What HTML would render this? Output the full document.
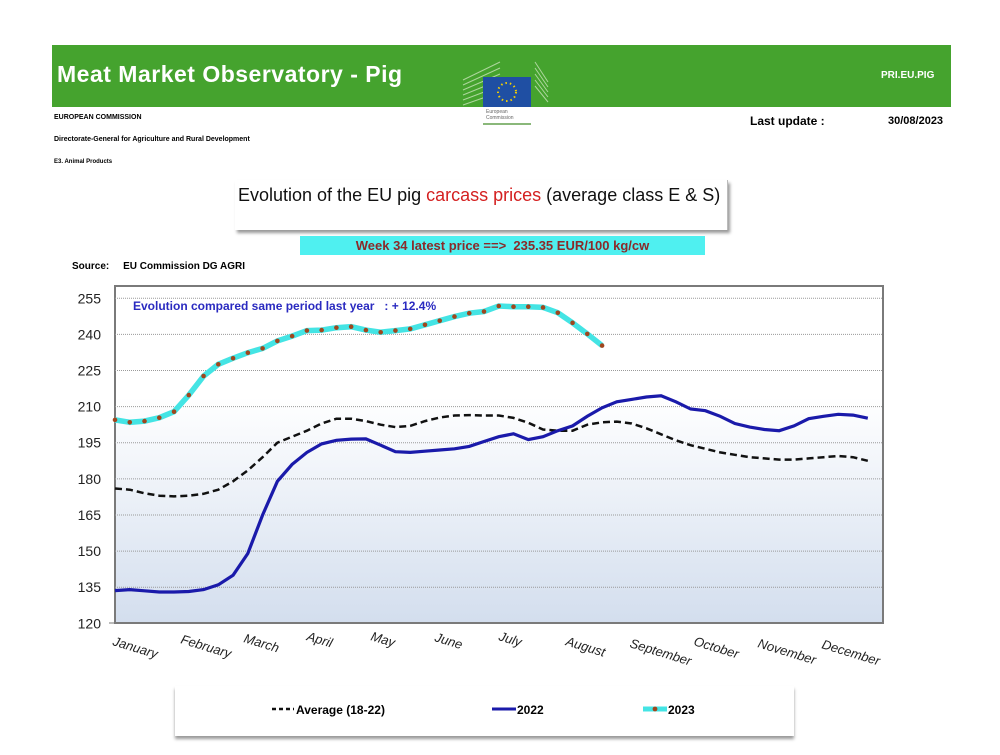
<!DOCTYPE html>
<html><head><meta charset="utf-8"><style>
body{margin:0;width:1000px;height:755px;background:#fff;position:relative;overflow:hidden;font-family:"Liberation Sans",sans-serif}
.a{position:absolute;white-space:nowrap}
</style></head><body>
<div class="a" style="left:52px;top:45px;width:899px;height:62px;background:#45a32e"></div>
<div class="a" style="left:57px;top:61px;font-size:23px;font-weight:bold;color:#fff;letter-spacing:0.5px">Meat Market Observatory - Pig</div>
<div class="a" style="left:881px;top:70px;font-size:10px;font-weight:bold;color:#fff">PRI.EU.PIG</div>
<svg class="a" style="left:460px;top:52px" width="90" height="80">
<g stroke="#b9dca9" stroke-width="1" opacity=".9">
<path d="M3 28 L40 10 M3 33 L40 16 M3 38 L40 22 M3 43 L40 28 M3 48 L40 34 M3 53 L40 40"/>
<path d="M75 10 L88 30 M75 16 L88 35 M75 22 L88 40 M75 28 L88 45 M75 34 L88 50"/>
</g>
<rect x="23" y="25" width="48" height="30" fill="#1f4fa3"/>
<circle cx="47" cy="40" r="9" fill="none" stroke="#f5d000" stroke-width="2" stroke-dasharray="1.5 3"/>
<rect x="23" y="55" width="48" height="14" fill="#fff"/>
<text x="26" y="61" font-size="5" fill="#666">European</text>
<text x="26" y="67" font-size="5" fill="#666">Commission</text>
<rect x="23" y="71" width="48" height="2" fill="#8ab87a"/>
</svg>
<div class="a" style="left:54px;top:114px;font-size:7px;font-weight:bold">EUROPEAN COMMISSION</div>
<div class="a" style="left:54px;top:136px;font-size:7px;font-weight:bold">Directorate-General for Agriculture and Rural Development</div>
<div class="a" style="left:54px;top:159px;font-size:6px;font-weight:bold">E3. Animal Products</div>
<div class="a" style="left:750px;top:114px;font-size:12px;font-weight:bold">Last update :</div>
<div class="a" style="left:888px;top:115px;font-size:11px;font-weight:bold">30/08/2023</div>
<div class="a" style="left:235px;top:180px;width:492px;height:50px;background:#fff;box-shadow:2px 3px 3px #999;border-right:1px solid #bbb"></div>
<div class="a" style="left:238px;top:185px;font-size:18px;color:#111">Evolution of the EU pig <span style="color:#d42020">carcass prices</span> (average class E &amp; S)</div>
<div class="a" style="left:300px;top:236px;width:405px;height:19px;background:#4ff0f0"></div>
<div class="a" style="left:300px;top:238px;width:405px;text-align:center;font-size:13px;font-weight:bold;color:#8b2a2a">Week 34 latest price ==&gt;&nbsp; 235.35 EUR/100 kg/cw</div>
<div class="a" style="left:72px;top:261px;font-size:10px;font-weight:bold">Source:&nbsp;&nbsp;&nbsp;&nbsp; EU Commission DG AGRI</div>
<div class="a" style="left:175px;top:686px;width:619px;height:50px;background:#fff;box-shadow:0 3px 3px #999"></div>
<svg class="a" style="left:0;top:0" width="1000" height="755" id="s"></svg>
<script>
var avg=[176,175.5,174,173,172.7,173,173.8,175.5,179,183.5,189,195,197.5,200,203,205,205,204,202.5,201.5,202,204,205.5,206.3,206.5,206.3,206.3,205.3,203.3,200.5,200,200,202.5,203.5,203.8,203,201,198.5,196,194,192.5,191,190,189,188.5,188,188,188.5,189,189.5,189,187.5];
var y22=[133.6,134,133.5,133,133,133.2,134,136,140,149,165,179,186,191,194.5,196,196.5,196.6,194,191.3,191,191.5,192,192.5,193.5,195.5,197.5,198.7,196.3,197.5,200,202,206,209.5,212,213,214,214.5,212,209,208.3,206,203,201.5,200.5,200,202,205,206,206.8,206.5,205.2];
var y23=[204.5,203.5,204,205.4,207.9,214.8,222.7,227.6,230.1,232.4,234.2,237.3,239.3,241.6,241.8,242.8,243.2,241.8,240.9,241.6,242.3,244,245.7,247.4,248.8,249.5,251.8,251.5,251.5,251.2,249,244.8,240.2,235.35];
function X(w){return 115+14.76*w}function Y(v){return 298.3+(255-v)*2.4074}
function P(a){return a.map(function(v,i){return X(i).toFixed(1)+','+Y(v).toFixed(1)}).join(' ')}
var s='<defs><linearGradient id="g" x1="0" y1="0" x2="0" y2="1"><stop offset="0" stop-color="#fff"/><stop offset=".33" stop-color="#fff"/><stop offset="1" stop-color="#d3deee"/></linearGradient></defs>';
s+='<rect x="115" y="286" width="768" height="337" fill="url(#g)" stroke="#7a7a7a" stroke-width="2"/>';
for(var v=120;v<=255;v+=15){var y=Y(v);if(v>120)s+='<line x1="115" x2="883" y1="'+y+'" y2="'+y+'" stroke="#9a9a9a" stroke-dasharray="1 1"/>';s+='<text x="101" y="'+(y+5)+'" font-size="14" text-anchor="end" fill="#222">'+v+'</text>';}
s+='<line x1="109" x2="115" y1="623" y2="623" stroke="#777"/>';
s+='<polyline points="'+P(avg)+'" fill="none" stroke="#111" stroke-width="2.5" stroke-dasharray="7 4"/>';
s+='<polyline points="'+P(y22)+'" fill="none" stroke="#1a1aaa" stroke-width="3.2"/>';
s+='<polyline points="'+P(y23)+'" fill="none" stroke="#44e4e4" stroke-width="5.5"/>';
y23.forEach(function(v,i){s+='<circle cx="'+X(i)+'" cy="'+Y(v)+'" r="2.3" fill="#a0461e"/>'});
s+='<text x="133" y="310" font-size="12" font-weight="bold" fill="#2a2ac0">Evolution compared same period last year&#160;&#160; : + 12.4%</text>';
var m=[["January",112,645],["February",180,643],["March",243,642],["April",306,640],["May",370,640],["June",434,641],["July",498,640],["August",565,645],["September",629,647],["October",693,645],["November",757,647],["December",821,648]];
m.forEach(function(a){s+='<text transform="translate('+a[1]+','+a[2]+') rotate(17)" font-size="13" font-style="italic" fill="#222">'+a[0]+'</text>'});
s+='<line x1="272" x2="294" y1="709" y2="709" stroke="#111" stroke-width="2.5" stroke-dasharray="4 3"/><text x="296" y="714" font-size="12" font-weight="bold">Average (18-22)</text>';
s+='<line x1="492" x2="516" y1="709" y2="709" stroke="#1a1aaa" stroke-width="3"/><text x="517" y="714" font-size="12" font-weight="bold">2022</text>';
s+='<line x1="643" x2="667" y1="709" y2="709" stroke="#44e4e4" stroke-width="5"/><circle cx="655" cy="709" r="2.4" fill="#a0461e"/><text x="668" y="714" font-size="12" font-weight="bold">2023</text>';
document.getElementById('s').innerHTML=s;
</script>
</body></html>
